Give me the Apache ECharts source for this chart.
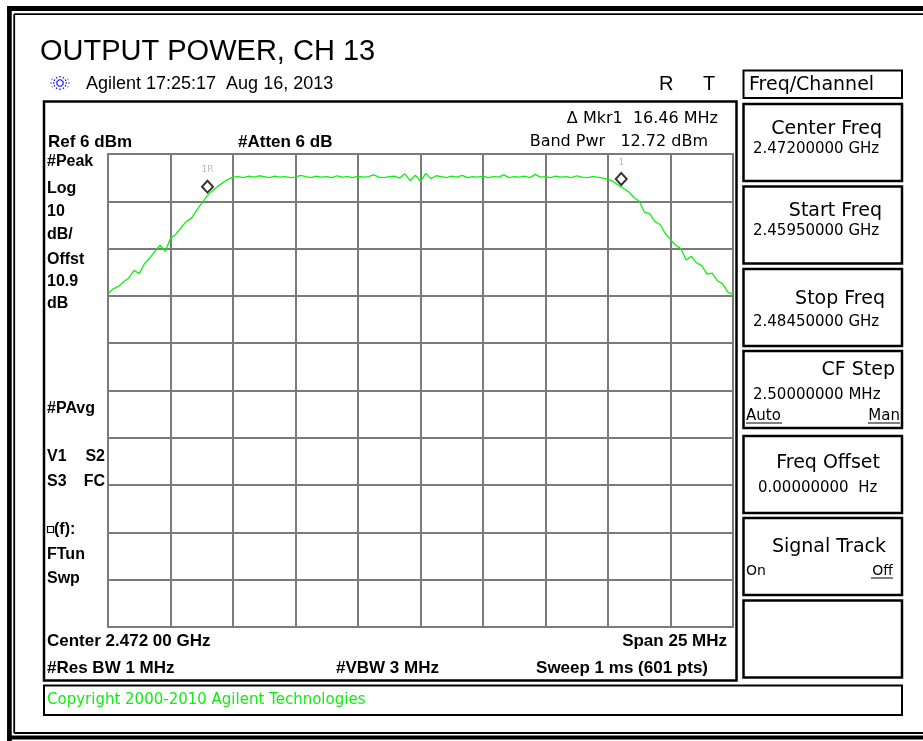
<!DOCTYPE html>
<html>
<head>
<meta charset="utf-8">
<script src="https://cdn.jsdelivr.net/npm/echarts@6/dist/echarts.min.js"></script>
<style>
html,body{margin:0;padding:0;background:#fff;}
#chart{width:923px;height:741px;}
</style>
</head>
<body>
<div id="chart"></div>
<script>
// ---- data ----
const START_GHZ = 2.4595;      // start frequency
const SPAN_MHZ = 25;           // span
const REF_DBM = 6;             // reference level (top of grid)
const DB_PER_DIV = 10;
const X_TICKS_MHZ = [0, 2.5, 5, 7.5, 10, 12.5, 15, 17.5, 20, 22.5, 25];
// trace levels (dBm) at 121 evenly spaced sweep points across the span
const traceDbm = [
  -23.6, -22.5, -22.0, -21.0, -20.2, -18.6, -19.3, -17.2, -16.0, -14.6,
  -13.3, -14.6, -11.8, -11.0, -9.6, -8.3, -7.6, -5.9, -4.4, -2.9,
  -1.8, -0.9, -0.1, 0.6, 1.1,
  1.2, 1.0, 1.3, 1.1, 1.4, 1.2, 1.0, 1.3, 1.1, 1.2,
  1.0, 1.1, 1.5, 1.2, 1.0, 1.3, 1.1, 1.2, 1.0, 1.4,
  1.1, 1.2, 1.0, 1.3, 1.1, 1.2, 1.6, 1.1, 1.0, 1.2,
  1.3, 0.9, 1.8, 0.4, 1.5, 0.2, 1.9, 0.8, 1.4, 1.2,
  1.0, 1.3, 1.1, 1.5, 1.0, 1.2, 1.1, 1.3, 1.0, 1.2,
  1.1, 1.6, 1.0, 1.2, 1.1, 1.3, 1.0, 1.7, 1.1, 1.2,
  1.0, 1.3, 1.1, 1.2, 1.0, 1.4, 1.1, 1.0, 1.2, 1.1,
  0.9, 0.7,
  0.2, -0.6, -1.3, -2.0, -3.2, -4.0, -6.3, -6.6, -8.3, -8.9,
  -10.8, -12.1, -13.3, -14.0, -16.4, -15.6, -17.0, -17.6, -19.4, -19.2,
  -20.8, -21.4, -23.2, -23.7
];
const markerNames = ['1R', '1'];
const markerGhz = [2.46348, 2.48003];
const markerDbm = [-0.9, 0.7];

// ---- build ----
const N = traceDbm.length;
const traceData = traceDbm.map((v, i) => [i * SPAN_MHZ / (N - 1), v - REF_DBM]);
const markerData = markerNames.map((n, i) => ({
  name: n,
  value: [(markerGhz[i] - START_GHZ) * 1000, markerDbm[i] - REF_DBM]
}));

const FA = '"Liberation Sans", Arial, sans-serif';
const FD = '"DejaVu Sans", sans-serif';

function T(text, x, y, font, align, fill) {
  return {
    type: 'text', x: x, y: y, silent: true, z: 100,
    style: {
      text: text, font: font, fill: fill || '#000',
      align: align || 'left', textAlign: align || 'left',
      verticalAlign: 'middle', textVerticalAlign: 'middle'
    }
  };
}
function L(x1, y1, x2, y2, w, c) {
  return { type: 'line', silent: true, z: 100,
    shape: { x1: x1, y1: y1, x2: x2, y2: y2 },
    style: { stroke: c || '#000', lineWidth: w } };
}
function R(x, y, w, h, lw, c) {
  return { type: 'rect', silent: true, z: 100,
    shape: { x: x, y: y, width: w, height: h },
    style: { fill: 'transparent', stroke: c || '#000', lineWidth: lw } };
}

const g = [];
// outer page frame (double line)
g.push(L(9.4, 6, 9.4, 741, 4.7));
g.push(L(7, 8.5, 930, 8.5, 5));
g.push(L(14.2, 14.2, 14.2, 733, 1.8));
g.push(L(14.2, 14.2, 930, 14.2, 1.8));
g.push(L(14.2, 733, 930, 733, 1.8));
g.push(L(7, 737.5, 930, 737.5, 4));

// title
g.push(T('OUTPUT POWER, CH 13', 40, 52, '29px ' + FA));
// agilent logo (starburst)
for (let k = 0; k < 12; k++) {
  const a = k * Math.PI / 6;
  g.push({ type: 'line', silent: true, z: 100,
    shape: { x1: 60 + 2.5 * Math.cos(a), y1: 83 + 2.5 * Math.sin(a), x2: 60 + 9.5 * Math.cos(a), y2: 83 + 8 * Math.sin(a) },
    style: { stroke: '#1a1aff', lineWidth: 1.4, lineDash: [1.4, 1.6] } });
}
g.push(T('Agilent 17:25:17  Aug 16, 2013', 86, 84.5, '18px ' + FA));
g.push(T('R', 659, 84.5, '20px ' + FA));
g.push(T('T', 703, 84.5, '20px ' + FA));

// screen box
g.push(R(44, 101.5, 692.5, 579, 2.5));
g.push(T('\u0394 Mkr1  16.46 MHz', 718, 118.5, '16px ' + FD, 'right'));
g.push(T('Band Pwr   12.72 dBm', 708, 142, '16px ' + FD, 'right'));
g.push(T('Ref 6 dBm', 48, 142, 'bold 17px ' + FA));
g.push(T('#Atten 6 dB', 238, 142, 'bold 17px ' + FA));

// left side labels
const BL = 'bold 16px ' + FA;
[['#Peak', 161.5], ['Log', 188.5], ['10', 211.7], ['dB/', 235], ['Offst', 259.5],
 ['10.9', 281.7], ['dB', 304], ['#PAvg', 408.3], ['FTun', 554.3], ['Swp', 578.3]]
  .forEach(p => g.push(T(p[0], 47, p[1], BL)));
g.push(T('V1', 47, 456.7, BL));
g.push(T('S2', 105, 456.7, BL, 'right'));
g.push(T('S3', 47, 481.7, BL));
g.push(T('FC', 105, 481.7, BL, 'right'));
g.push(R(47.5, 526.5, 6, 6, 1.2));
g.push(T('(f):', 54, 530, BL));

g.push(T('Center 2.472 00 GHz', 47, 641.7, 'bold 17px ' + FA));
g.push(T('Span 25 MHz', 727, 641.7, 'bold 17px ' + FA, 'right'));
g.push(T('#Res BW 1 MHz', 47, 668.3, 'bold 17px ' + FA));
g.push(T('#VBW 3 MHz', 336, 668.3, 'bold 17px ' + FA));
g.push(T('Sweep 1 ms (601 pts)', 708, 668.3, 'bold 17px ' + FA, 'right'));

// copyright bar
g.push(R(44, 685.5, 858, 29.5, 2));
g.push(T('Copyright 2000-2010 Agilent Technologies', 47, 700, '15px ' + FD, 'left', '#10ee10'));

// right soft-key panel
g.push(R(743.5, 70.5, 158.5, 27.5, 2));
g.push(T('Freq/Channel', 749, 85, '19px ' + FD));
const boxes = [104, 186.5, 269, 351, 436, 518, 600.5];
boxes.forEach(y => g.push(R(743.5, y, 158.5, 77, 2.5)));
g.push(T('Center Freq', 882, 128.7, '19px ' + FD, 'right'));
g.push(T('2.47200000 GHz', 753, 148.8, '15px ' + FD));
g.push(T('Start Freq', 882, 211, '19px ' + FD, 'right'));
g.push(T('2.45950000 GHz', 753, 231.5, '15px ' + FD));
g.push(T('Stop Freq', 885, 299.5, '19px ' + FD, 'right'));
g.push(T('2.48450000 GHz', 753, 321.7, '15px ' + FD));
g.push(T('CF Step', 895, 370, '19px ' + FD, 'right'));
g.push(T('2.50000000 MHz', 753, 395, '15px ' + FD));
g.push(T('Auto', 746, 416.5, '15px ' + FD));
g.push(L(746, 423, 782, 423, 1));
g.push(T('Man', 900, 416.5, '15px ' + FD, 'right'));
g.push(L(868, 423, 900, 423, 1));
g.push(T('Freq Offset', 880, 463, '19px ' + FD, 'right'));
g.push(T('0.00000000  Hz', 758, 488, '15px ' + FD));
g.push(T('Signal Track', 886, 547.5, '19px ' + FD, 'right'));
g.push(T('On', 746, 571, '14px ' + FD));
g.push(T('Off', 893, 571, '14px ' + FD, 'right'));
g.push(L(871, 578, 893, 578, 1));

const GRID_C = '#7a7a7a';
const chart = echarts.init(document.getElementById('chart'), null, { renderer: 'canvas' });
chart.setOption({
  animation: false,
  backgroundColor: '#fff',
  grid: { left: 108, top: 154, width: 625, height: 473, show: true,
          borderColor: GRID_C, borderWidth: 2, backgroundColor: 'transparent' },
  xAxis: {
    type: 'value', min: X_TICKS_MHZ[0], max: X_TICKS_MHZ[X_TICKS_MHZ.length - 1],
    interval: X_TICKS_MHZ[1] - X_TICKS_MHZ[0],
    axisLine: { show: false }, axisTick: { show: false }, axisLabel: { show: false },
    splitLine: { show: true, lineStyle: { color: GRID_C, width: 2 } }
  },
  yAxis: {
    type: 'value', min: -DB_PER_DIV * 10, max: 0, interval: DB_PER_DIV,
    axisLine: { show: false }, axisTick: { show: false }, axisLabel: { show: false },
    splitLine: { show: true, lineStyle: { color: GRID_C, width: 2 } }
  },
  series: [
    { type: 'line', data: traceData, showSymbol: false, symbol: 'none',
      lineStyle: { color: '#10f010', width: 1.3 }, z: 3 },
    { type: 'scatter', data: markerData, symbol: 'diamond', symbolSize: [11, 12],
      itemStyle: { color: '#fff', borderColor: '#000', borderWidth: 2 }, z: 5,
      label: { show: true, position: 'top', distance: 5, formatter: '{b}',
               color: '#aaa', fontSize: 9, fontFamily: FD } }
  ],
  graphic: { elements: g }
});
</script>
</body>
</html>
